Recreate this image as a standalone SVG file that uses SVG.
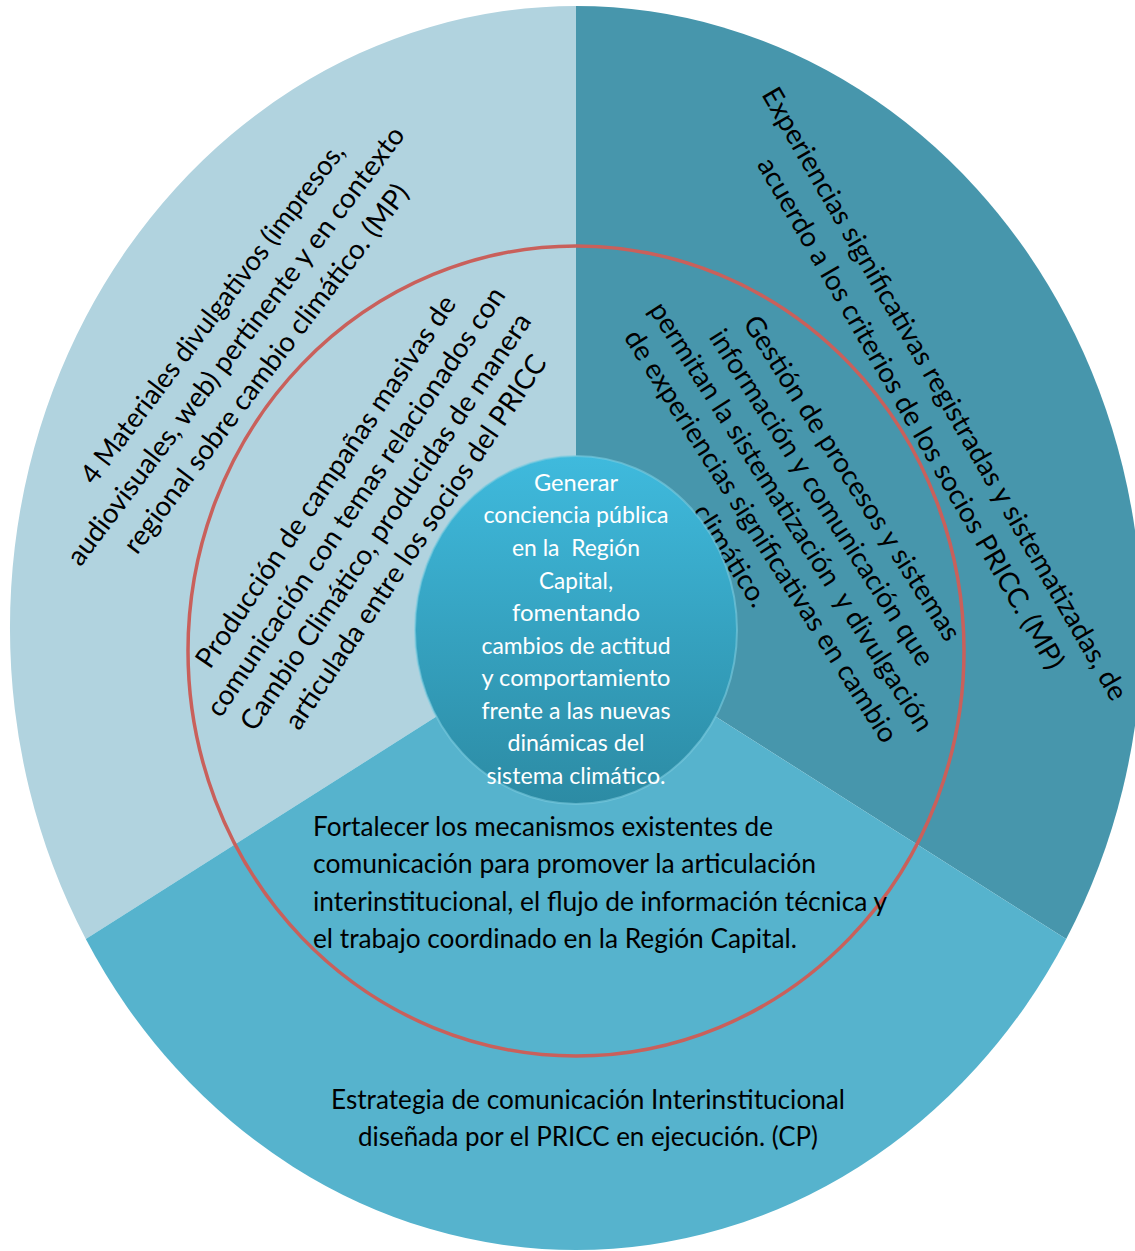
<svg xmlns="http://www.w3.org/2000/svg" width="1135" height="1251" viewBox="0 0 1135 1251">
<defs>
<linearGradient id="gc" x1="0" y1="0" x2="0" y2="1">
<stop offset="0" stop-color="#3FBADD"/>
<stop offset="1" stop-color="#2C8BA4"/>
</linearGradient>
<style>
.t{font-family:Lato,"Open Sans","Liberation Sans",sans-serif;fill:#000;}
.w{font-family:Lato,"Open Sans","Liberation Sans",sans-serif;fill:#fff;font-size:23px;}
.r{font-size:27.8px;}
.b{font-size:26px;}
</style>
</defs>
<rect width="1135" height="1251" fill="#fff"/>
<g id="sector-left">
<path d="M576,628 L85.8,939 A566,622 0 0 1 576,6 Z" fill="#B1D3DF"/>
</g>
<g id="sector-right">
<path d="M576,628 L576,6 A566,622 0 0 1 1066.2,939 Z" fill="#4796AC"/>
</g>
<g id="sector-bottom">
<path d="M576,628 L1066.2,939 A566,622 0 0 1 85.8,939 Z" fill="#56B3CD"/>
</g>
<g id="inner-ring">
<ellipse cx="576" cy="651" rx="388" ry="405" fill="none" stroke="#C9605B" stroke-width="3.5"/>
</g>
<g id="connectors"></g>
<g id="node-left-outer" class="t r" transform="translate(236,346) rotate(-53)">
<text x="12" y="-29" text-anchor="middle" textLength="418" lengthAdjust="spacingAndGlyphs">4 Materiales divulgativos (impresos,</text>
<text x="0" y="9" text-anchor="middle">audiovisuales, web) pertinente y en contexto</text>
<text x="0" y="47" text-anchor="middle">regional sobre cambio climático. (MP)</text>
</g>
<g id="node-left-inner" class="t r" transform="translate(371,512) rotate(-56)">
<text x="0" y="-45" text-anchor="middle">Producción de campañas masivas de</text>
<text x="0" y="-9" text-anchor="middle">comunicación con temas relacionados con</text>
<text x="0" y="27" text-anchor="middle">Cambio Climático, producidas de manera</text>
<text x="0" y="63" text-anchor="middle">articulada entre los socios del PRICC</text>
</g>
<g id="node-right-outer" class="t r" transform="translate(927,404) rotate(60)">
<text x="0" y="-11" text-anchor="middle">Experiencias significativas registradas y sistematizadas, de</text>
<text x="0" y="28" text-anchor="middle">acuerdo a los criterios de los socios PRICC. (MP)</text>
</g>
<g id="node-right-inner" class="t r" transform="translate(791,517) rotate(57.5)">
<text x="0" y="-63" text-anchor="middle">Gestión de procesos y sistemas</text>
<text x="0" y="-27" text-anchor="middle">información y comunicación que</text>
<text x="0" y="9" text-anchor="middle" xml:space="preserve">permitan la sistematización  y divulgación</text>
<text x="0" y="45" text-anchor="middle">de experiencias significativas en cambio</text>
<text x="0" y="81" text-anchor="middle">climático.</text>
</g>
<g id="node-bottom-inner" class="t b">
<text x="313" y="836" textLength="460" lengthAdjust="spacingAndGlyphs">Fortalecer los mecanismos existentes de</text>
<text x="313" y="873" textLength="503" lengthAdjust="spacingAndGlyphs">comunicación para promover la articulación</text>
<text x="313" y="911" textLength="574" lengthAdjust="spacingAndGlyphs">interinstitucional, el flujo de información técnica y</text>
<text x="313" y="948" textLength="484" lengthAdjust="spacingAndGlyphs">el trabajo coordinado en la Región Capital.</text>
</g>
<g id="node-bottom-outer" class="t b">
<text x="331" y="1109" textLength="514" lengthAdjust="spacingAndGlyphs">Estrategia de comunicación Interinstitucional</text>
<text x="358" y="1146" textLength="460" lengthAdjust="spacingAndGlyphs">diseñada por el PRICC en ejecución. (CP)</text>
</g>
<g id="node-center">
<ellipse cx="576" cy="630" rx="161" ry="174" fill="url(#gc)" stroke="#7CCBE0" stroke-opacity="0.6" stroke-width="2"/>
<g class="w" text-anchor="middle">
<text x="576" y="491" textLength="84" lengthAdjust="spacingAndGlyphs">Generar</text>
<text x="576" y="523" textLength="185" lengthAdjust="spacingAndGlyphs">conciencia pública</text>
<text x="576" y="556" textLength="128" lengthAdjust="spacingAndGlyphs" xml:space="preserve">en la  Región</text>
<text x="576" y="589" textLength="74" lengthAdjust="spacingAndGlyphs">Capital,</text>
<text x="576" y="621" textLength="128" lengthAdjust="spacingAndGlyphs">fomentando</text>
<text x="576" y="654" textLength="189" lengthAdjust="spacingAndGlyphs">cambios de actitud</text>
<text x="576" y="686" textLength="189" lengthAdjust="spacingAndGlyphs">y comportamiento</text>
<text x="576" y="719" textLength="189" lengthAdjust="spacingAndGlyphs">frente a las nuevas</text>
<text x="576" y="751" textLength="137" lengthAdjust="spacingAndGlyphs">dinámicas del</text>
<text x="576" y="784" textLength="179" lengthAdjust="spacingAndGlyphs">sistema climático.</text>
</g>
</g>
</svg>
